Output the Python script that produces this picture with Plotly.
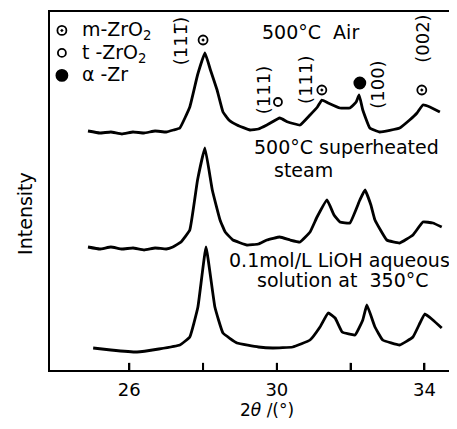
import plotly.graph_objects as go

# ---- data (2θ in degrees, intensity in arbitrary units incl. vertical offset) ----
air_x = [24.88, 25.2, 25.5, 25.8, 26.1, 26.4, 26.7, 27.0, 27.2, 27.37, 27.64, 27.85, 28.05,
         28.2, 28.38, 28.54, 28.7, 28.92, 29.27, 29.5, 29.73, 30.08, 30.3, 30.63, 30.9,
         31.1, 31.22, 31.39, 31.71, 31.98, 32.15, 32.23, 32.33, 32.52, 32.79, 33.33, 33.6,
         33.8, 33.96, 34.15, 34.42]
air_y = [239, 237, 238, 236, 238, 237, 239, 238, 240, 242, 263, 295, 317,
         300, 280, 258, 250, 245, 240, 241, 245, 252, 248, 245, 255,
         263, 270, 267, 262, 262, 268, 275, 260, 242, 238, 242, 250,
         257, 265, 263, 258]

steam_x = [24.88, 25.2, 25.5, 25.8, 26.1, 26.4, 26.7, 27.0, 27.18, 27.4, 27.64, 27.85, 28.05,
           28.25, 28.46, 28.6, 28.81, 29.19, 29.5, 29.73, 30.08, 30.36, 30.63, 30.9, 31.09,
           31.36, 31.55, 31.71, 31.98, 32.25, 32.39, 32.55, 32.66, 32.98, 33.33, 33.69,
           33.96, 34.23, 34.47]
steam_y = [123, 121, 123, 121, 122, 120, 122, 121, 123, 128, 140, 190, 222,
           180, 150, 138, 130, 125, 126, 130, 133, 130, 128, 138, 153,
           170, 155, 148, 147, 170, 180, 165, 150, 130, 127, 135,
           148, 147, 143]

lioh_x = [25.02, 25.5, 26.21, 26.8, 27.37, 27.64, 27.86, 28.08, 28.32, 28.54, 28.92, 29.5,
          29.89, 30.43, 30.9, 31.17, 31.39, 31.58, 31.77, 32.12, 32.33, 32.44, 32.66,
          32.87, 33.33, 33.69, 33.88, 34.01, 34.23, 34.47]
lioh_y = [22, 20, 18, 21, 25, 33, 63, 123, 63, 37, 27, 23,
          22, 23, 30, 43, 57, 52, 38, 35, 50, 65, 43,
          30, 25, 33, 47, 56, 50, 42]

# peak phase markers (Air pattern)
peak_x = [28.0, 30.03, 31.22, 32.25, 33.93]
peak_y = [330, 268, 280, 287, 280]
peak_phase = ["m", "t", "m", "a", "m"]

hkl_text = ["(111\u0305)", "(111)", "(111)", "(100)", "(002)"]
hkl_x = [27.38, 29.63, 30.76, 32.71, 33.93]
hkl_y = [329, 280, 290, 285, 331]

x_tickvals = [26, 28, 30, 32, 34]
x_ticktext = ["26", "", "30", "", "34"]

FONT = "DejaVu Sans"
symbols = {"m": "circle-open-dot", "t": "circle-open", "a": "circle"}
sizes = {"m": 9, "t": 8, "a": 11}
names = {"m": "m-ZrO<sub>2</sub>", "t": "t -ZrO<sub>2</sub>", "a": "\u03b1 -Zr"}

fig = go.Figure()
for xs, ys in [(air_x, air_y), (steam_x, steam_y), (lioh_x, lioh_y)]:
    fig.add_trace(go.Scatter(x=xs, y=ys, mode="lines",
                             line=dict(color="black", width=2.8, shape="spline", smoothing=0.3),
                             showlegend=False, hoverinfo="skip"))

for ph in ["m", "t", "a"]:
    xs = [x for x, p in zip(peak_x, peak_phase) if p == ph]
    ys = [y for y, p in zip(peak_y, peak_phase) if p == ph]
    fig.add_trace(go.Scatter(x=xs, y=ys, mode="markers",
                             name='<span style="font-size:19px">' + names[ph] + "</span>",
                             marker=dict(symbol=symbols[ph], size=sizes[ph], color="black",
                                         line=dict(color="black", width=1.8))))

for t, x, y in zip(hkl_text, hkl_x, hkl_y):
    fig.add_annotation(x=x, y=y, text=t, textangle=-90, showarrow=False,
                       xanchor="center", yanchor="middle",
                       font=dict(family=FONT, size=18, color="black"))

labels = [("500°C  Air", 30.9, 338), ("500°C superheated", 31.89, 223), ("steam", 30.73, 200),
          ("0.1mol/L LiOH aqueous", 31.7, 110), ("solution at  350°C", 31.79, 90)]
for t, x, y in labels:
    fig.add_annotation(x=x, y=y, text=t, showarrow=False, xanchor="center", yanchor="middle",
                       font=dict(family=FONT, size=19, color="black"))

# axis titles placed as paper annotations
fig.add_annotation(xref="paper", yref="paper", x=-0.062, y=0.4385, text="Intensity",
                   textangle=-90, showarrow=False, xanchor="center", yanchor="middle",
                   font=dict(family=FONT, size=19, color="black"))
fig.add_annotation(xref="paper", yref="paper", x=0.536, y=-0.112, text="2<i>θ</i> /(°)",
                   showarrow=False, xanchor="center", yanchor="middle",
                   font=dict(family=FONT, size=17, color="black"))

# inward tick marks at the tick values
for tv in x_tickvals:
    fig.add_shape(type="line", xref="x", yref="paper", x0=tv, x1=tv, y0=0, y1=0.02,
                  line=dict(color="black", width=2), layer="above")

# page body has an 8px default margin, so the figure is 8px smaller with margins shifted
fig.update_layout(
    width=449, height=421,
    margin=dict(l=42, r=2, t=4, b=59),
    paper_bgcolor="white", plot_bgcolor="white",
    font=dict(family=FONT, size=18, color="black"),
    showlegend=True,
    legend=dict(x=-0.02, y=0.994, xanchor="left", yanchor="top", bgcolor="rgba(0,0,0,0)",
                font=dict(family=FONT, size=15), itemwidth=30, tracegroupgap=0),
    xaxis=dict(range=[23.85, 34.83], tickvals=x_tickvals, ticktext=x_ticktext,
               ticks="inside", ticklen=7, tickwidth=2, tickcolor="black",
               ticklabelstandoff=2,
               showline=True, linecolor="black", linewidth=2, mirror=True,
               showgrid=False, zeroline=False, automargin=False,
               tickfont=dict(size=18)),
    yaxis=dict(range=[0, 358], showticklabels=False, ticks="",
               showline=True, linecolor="black", linewidth=2, mirror=True,
               showgrid=False, zeroline=False, automargin=False),
)

fig.write_html("out.html")
